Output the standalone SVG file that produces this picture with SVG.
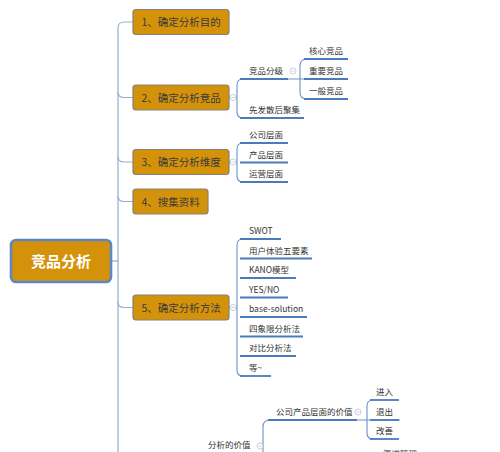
<svg xmlns="http://www.w3.org/2000/svg" width="500" height="452" viewBox="0 0 500 452">
<style>
.trunk{fill:none;stroke:#93aecd;stroke-width:1.2}
.vl{fill:none;stroke:#6a93c8;stroke-width:1.1}
.ul{fill:none;stroke:#4b7bbd;stroke-width:1.8}
.n1{fill:#d4920b;stroke:#85817a;stroke-width:1.2}
.t1{font-family:"Noto Sans CJK SC","Liberation Sans",sans-serif;font-size:10.5px;fill:#3a3a3a}
.t2{font-family:"Noto Sans CJK SC","Liberation Sans",sans-serif;font-size:8.5px;fill:#333}
.tr{font-family:"Noto Sans CJK SC","Liberation Sans",sans-serif;font-size:15px;font-weight:bold;fill:#ffffff}
.cc{fill:#fff;stroke:#b9c3cf;stroke-width:0.8}
.cm{stroke:#b9c3cf;stroke-width:0.8}
</style>
<rect width="500" height="452" fill="#ffffff"/>
<g id="connectors">
<path class="trunk" d="M112,261 H118"/>
<path class="trunk" d="M133,22 H124 Q118,22 118,28 V452"/>
<path class="trunk" d="M118,92 Q118,97.5 124,97.5 H133"/>
<path class="trunk" d="M118,156.5 Q118,162 124,162 H133"/>
<path class="trunk" d="M118,196 Q118,201.5 124,201.5 H133"/>
<path class="trunk" d="M118,302 Q118,307.5 124,307.5 H133"/>
<!-- node2 children -->
<path class="vl" d="M229,97.5 H237"/>
<path class="vl" d="M243,79 Q237,79 237,85 V112 Q237,118 243,118"/>
<path class="ul" d="M240,79 H288"/>
<path class="ul" d="M240,118 H304"/>
<path class="vl" d="M288,79 H348"/>
<path class="vl" d="M307,59 Q300,59 300,66 V92 Q300,99 307,99"/>
<path class="ul" d="M304,59 H348"/>
<path class="ul" d="M304,79 H348"/>
<path class="ul" d="M304,99 H348"/>
<!-- node3 children -->
<path class="vl" d="M229,162 H237"/>
<path class="vl" d="M243,143 Q237,143 237,149 V176 Q237,182 243,182"/>
<path class="ul" d="M240,143 H288"/>
<path class="ul" d="M240,162.5 H288"/>
<path class="ul" d="M240,182 H288"/>
<!-- node5 children -->
<path class="vl" d="M229,307.5 H237"/>
<path class="vl" d="M243,239 Q237,239 237,245 V370 Q237,376 243,376"/>
<path class="ul" d="M240,239 H281"/>
<path class="ul" d="M240,258.5 H312"/>
<path class="ul" d="M240,278 H296"/>
<path class="ul" d="M240,297.5 H288"/>
<path class="ul" d="M240,317 H307"/>
<path class="ul" d="M240,336.5 H303"/>
<path class="ul" d="M240,356 H296"/>
<path class="ul" d="M240,376 H271"/>
<!-- bottom -->
<path class="vl" d="M263,452 V427 Q263,420 270,420"/>
<path class="ul" d="M268,420 H357"/>
<path class="vl" d="M357,420 H400"/>
<path class="vl" d="M373,400 Q367,400 367,406 V433 Q367,439 373,439"/>
<path class="ul" d="M370,400 H399"/>
<path class="ul" d="M370,420 H399"/>
<path class="ul" d="M370,439 H399"/>
</g>
<g id="collapse">
<circle class="cc" cx="233" cy="97.5" r="3"/><path class="cm" d="M231.5,97.5 H234.5"/>
<circle class="cc" cx="233" cy="162" r="3"/><path class="cm" d="M231.5,162 H234.5"/>
<circle class="cc" cx="233" cy="307.5" r="3"/><path class="cm" d="M231.5,307.5 H234.5"/>
<circle class="cc" cx="293" cy="71" r="3"/><path class="cm" d="M291.5,71 H294.5"/>
<circle class="cc" cx="358" cy="412" r="3"/><path class="cm" d="M356.5,412 H359.5"/>
<circle class="cc" cx="260" cy="446" r="3"/><path class="cm" d="M258.5,446 H261.5"/>
</g>
<g id="root">
<rect x="11" y="240" width="100" height="42" rx="5" fill="#d4920b" stroke="#5b87c2" stroke-width="2.6"/>
<text class="tr" x="61" y="266.5" text-anchor="middle">竞品分析</text>
</g>
<g id="n1"><rect class="n1" x="133" y="9.5" width="96" height="25" rx="3"/><text class="t1" x="141.5" y="26">1、确定分析目的</text></g>
<g id="n2"><rect class="n1" x="133" y="85" width="96" height="25" rx="3"/><text class="t1" x="141.5" y="101.5">2、确定分析竞品</text></g>
<g id="n3"><rect class="n1" x="133" y="149.5" width="96" height="25" rx="3"/><text class="t1" x="141.5" y="166">3、确定分析维度</text></g>
<g id="n4"><rect class="n1" x="133" y="189" width="75" height="25" rx="3"/><text class="t1" x="141.5" y="205.5">4、搜集资料</text></g>
<g id="n5"><rect class="n1" x="133" y="295" width="96" height="25" rx="3"/><text class="t1" x="141.5" y="311.5">5、确定分析方法</text></g>
<g id="l2">
<text class="t2" x="249" y="74">竞品分级</text>
<text class="t2" x="249" y="113">先发散后聚集</text>
<text class="t2" x="309" y="54">核心竞品</text>
<text class="t2" x="309" y="74">重要竞品</text>
<text class="t2" x="309" y="94">一般竞品</text>
<text class="t2" x="249" y="138">公司层面</text>
<text class="t2" x="249" y="157.5">产品层面</text>
<text class="t2" x="249" y="177">运营层面</text>
<text class="t2" x="249" y="234">SWOT</text>
<text class="t2" x="249" y="253.5">用户体验五要素</text>
<text class="t2" x="249" y="273">KANO模型</text>
<text class="t2" x="249" y="292.5">YES/NO</text>
<text class="t2" x="249" y="312">base-solution</text>
<text class="t2" x="249" y="331.5">四象限分析法</text>
<text class="t2" x="249" y="351">对比分析法</text>
<text class="t2" x="249" y="371">等~</text>
<text class="t2" x="276" y="415">公司产品层面的价值</text>
<text class="t2" x="376" y="395">进入</text>
<text class="t2" x="376" y="415">退出</text>
<text class="t2" x="376" y="434">改善</text>
<text class="t2" x="383" y="457">渠道管理</text>
<text class="t2" x="208" y="448">分析的价值</text>
</g>
</svg>
